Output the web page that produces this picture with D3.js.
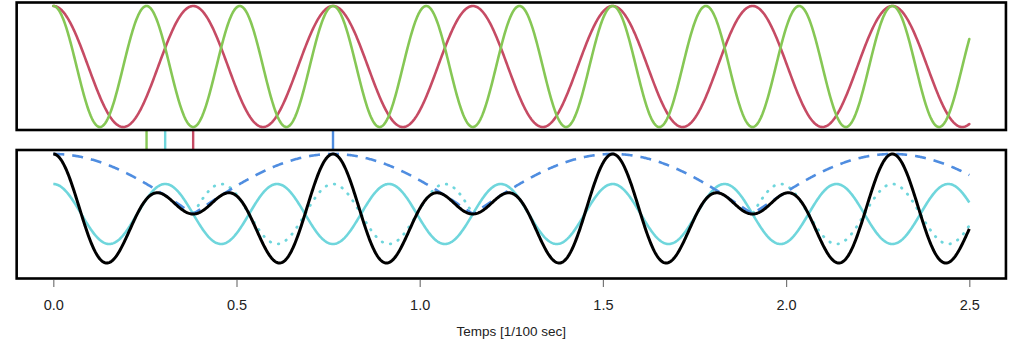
<!DOCTYPE html>
<html>
<head>
<meta charset="utf-8">
<script src="https://cdn.jsdelivr.net/npm/d3@7"></script>
<style>
  html, body { margin: 0; padding: 0; background: #fff; }
  svg { display: block; font-family: "Liberation Sans", Arial, Helvetica, sans-serif; }
</style>
</head>
<body>
<svg id="chart" width="1024" height="341"></svg>
<script>
// ---- data ----
// two pure tones, frequency in cycles per 1/100 sec
const toneNames = ["rouge", "vert"];
const toneFreqs = [2.62, 3.93];
const toneColors = ["#C64B64", "#86C755"];
// period marks shown between the panels (1/100 sec)
const markNames = ["vert", "moyenne", "rouge", "battement"];
const markTimes = [0.2545, 0.3053, 0.3817, 0.7634];
const markColors = ["#86C755", "#6FD6DC", "#C64B64", "#4F8DE0"];
// x axis
const xTicks = [0, 0.5, 1, 1.5, 2, 2.5];
const xTickLabels = ["0.0", "0.5", "1.0", "1.5", "2.0", "2.5"];
const xDomain = [0, 2.5];
const xTitle = "Temps [1/100 sec]";

// ---- layout ----
const svg = d3.select("#chart");
const x = d3.scaleLinear().domain(xDomain).range([53.3, 969.3]);
const boxLeft = x(-0.1), boxRight = x(2.6);
const yTop = d3.scaleLinear().domain([-1, 1]).range([127, 6]);
const yBot = d3.scaleLinear().domain([-2, 2]).range([274, 154]);
const topBox = [2.5, 130];
const botBox = [150, 278.5];

// sample times
const n = 1200;
const times = d3.range(n + 1).map(i => xDomain[0] + (xDomain[1] - xDomain[0]) * i / n);
const fMean = (toneFreqs[0] + toneFreqs[1]) / 2;
const fDiff = Math.abs(toneFreqs[1] - toneFreqs[0]);
const cosw = (f, t) => Math.cos(2 * Math.PI * f * t);

// ---- top panel: the two tones ----
const gTop = svg.append("g");
toneFreqs.forEach((f, i) => {
  gTop.append("path")
    .datum(times)
    .attr("fill", "none")
    .attr("stroke", toneColors[i])
    .attr("stroke-width", 2.6)
    .attr("stroke-linecap", "round")
    .attr("stroke-linejoin", "round")
    .attr("d", d3.line().x(t => x(t)).y(t => yTop(cosw(f, t))));
});

// ---- bottom panel ----
const gBot = svg.append("g");
// carrier (mean frequency)
gBot.append("path")
  .datum(times)
  .attr("fill", "none").attr("stroke", "#6FD6DC").attr("stroke-width", 2.6)
  .attr("d", d3.line().x(t => x(t)).y(t => yBot(cosw(fMean, t))));
// inverted carrier where envelope is negative
gBot.append("path")
  .datum(times)
  .attr("fill", "none").attr("stroke", "#6FD6DC").attr("stroke-width", 2.8)
  .attr("stroke-linecap", "round").attr("stroke-dasharray", "0.5,8")
  .attr("d", d3.line()
    .defined(t => Math.cos(Math.PI * fDiff * t) < 0)
    .x(t => x(t)).y(t => yBot(-cosw(fMean, t))));
// envelope
gBot.append("path")
  .datum(times)
  .attr("fill", "none").attr("stroke", "#4F8DE0").attr("stroke-width", 2.6)
  .attr("stroke-dasharray", "11,8")
  .attr("d", d3.line().x(t => x(t)).y(t => yBot(2 * Math.abs(Math.cos(Math.PI * fDiff * t)))));
// sum
gBot.append("path")
  .datum(times)
  .attr("fill", "none").attr("stroke", "#000").attr("stroke-width", 3)
  .attr("stroke-linejoin", "round")
  .attr("d", d3.line().x(t => x(t)).y(t => yBot(cosw(toneFreqs[0], t) + cosw(toneFreqs[1], t))));

// ---- period marks between panels ----
svg.append("g").selectAll("line")
  .data(markTimes)
  .join("line")
  .attr("x1", d => x(d)).attr("x2", d => x(d))
  .attr("y1", topBox[1]).attr("y2", botBox[0])
  .attr("stroke", (d, i) => markColors[i])
  .attr("stroke-width", 2.4);

// ---- boxes ----
[topBox, botBox].forEach(b => {
  svg.append("rect")
    .attr("x", boxLeft).attr("y", b[0])
    .attr("width", boxRight - boxLeft).attr("height", b[1] - b[0])
    .attr("fill", "none").attr("stroke", "#000").attr("stroke-width", 2.6);
});

// ---- x axis ----
const axis = d3.axisBottom(x)
  .tickValues(xTicks)
  .tickFormat((d, i) => xTickLabels[i])
  .tickSize(7)
  .tickPadding(13);
const gAxis = svg.append("g").attr("transform", `translate(0,${botBox[1] + 1.5})`).call(axis);
gAxis.select(".domain").remove();
gAxis.selectAll(".tick line").attr("stroke", "#777").attr("stroke-width", 1.2);
gAxis.selectAll(".tick text").attr("font-size", 14.5).attr("fill", "#222")
  .attr("font-family", "'Liberation Sans', Arial, Helvetica, sans-serif");

svg.append("text")
  .attr("x", (boxLeft + boxRight) / 2).attr("y", 336)
  .attr("text-anchor", "middle")
  .attr("font-size", 13.5).attr("fill", "#222")
  .text(xTitle);
</script>
</body>
</html>
